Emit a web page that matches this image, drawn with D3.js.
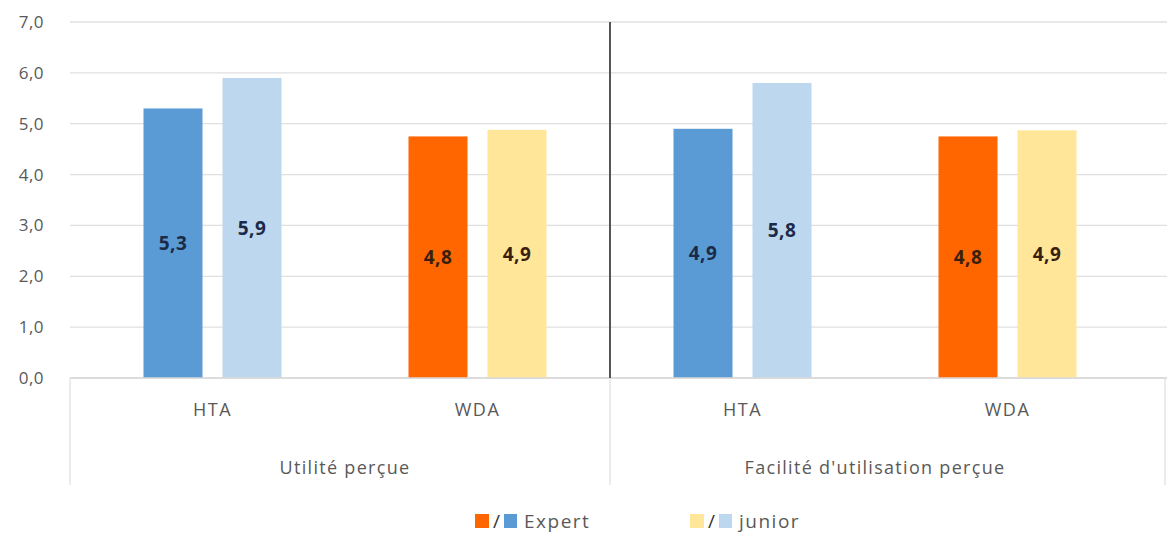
<!DOCTYPE html>
<html><head><meta charset="utf-8">
<script src="https://cdn.jsdelivr.net/npm/d3@7"></script>
<style>body{margin:0;background:#fff}svg{display:block}</style>
</head><body><svg id="c" width="1167" height="537"></svg>
<script>
const groups = ["Utilité perçue", "Facilité d'utilisation perçue"];
const categories = ["HTA", "WDA", "HTA", "WDA"];
const categoryGroup = [0, 0, 1, 1];
const series = ["Expert", "junior"];
const expertValues = [5.3, 4.75, 4.9, 4.75];
const juniorValues = [5.9, 4.88, 5.8, 4.87];
const expertColors = ["#5b9bd5", "#ff6600", "#5b9bd5", "#ff6600"];
const juniorColors = ["#bdd7ee", "#ffe699", "#bdd7ee", "#ffe699"];
const labelColors = ["#1b2a48", "#3a1f10", "#1b2a48", "#3a1f10"];
const yTicks = [0, 1, 2, 3, 4, 5, 6, 7];

const svg = d3.select("#c");
const font = "'Open Sans', 'DejaVu Sans', sans-serif";
const pL = 70, pR = 1167, pT = 22, pB = 378;

const y = d3.scaleLinear().domain([0, 7]).range([pB, pT]);
const x0 = d3.scaleBand().domain(d3.range(categories.length)).range([80, 1140]);
const x1 = d3.scaleBand().domain(series).range([-69, 69]).paddingInner(0.253);
const fmt = v => d3.format(".1f")(v).replace(".", ",");

// gridlines
svg.append("g").selectAll("line").data(yTicks).join("line")
  .attr("x1", pL).attr("x2", pR)
  .attr("y1", d => y(d)).attr("y2", d => y(d))
  .attr("stroke", "#e0e0e0").attr("stroke-width", 1.3);

// y axis labels
const yAxis = d3.axisLeft(y).tickValues(yTicks).tickFormat(d => d3.format(".1f")(d).replace(".", ",")).tickSize(0).tickPadding(0);
const ya = svg.append("g").attr("transform", "translate(44,0)").call(yAxis);
ya.select(".domain").remove();
ya.selectAll("text").attr("font-family", font).attr("font-size", 17).attr("letter-spacing", 0.5).attr("fill", "#595959");

// bars
const barData = [];
categories.forEach((c, i) => {
  barData.push({i, s: "Expert", v: expertValues[i], col: expertColors[i]});
  barData.push({i, s: "junior", v: juniorValues[i], col: juniorColors[i]});
});
const cx = i => x0(i) + x0.bandwidth() / 2;
svg.append("g").selectAll("rect").data(barData).join("rect")
  .attr("x", d => cx(d.i) + x1(d.s))
  .attr("width", x1.bandwidth())
  .attr("y", d => y(d.v))
  .attr("height", d => y(0) - y(d.v))
  .attr("fill", d => d.col);

// value labels
svg.append("g").selectAll("text").data(barData).join("text")
  .attr("x", d => cx(d.i) + x1(d.s) + x1.bandwidth() / 2)
  .attr("y", d => (y(d.v) + y(0)) / 2)
  .attr("dy", "0.35em")
  .attr("text-anchor", "middle")
  .attr("font-family", font).attr("font-weight", "bold").attr("font-size", 19).attr("letter-spacing", 0.5)
  .attr("fill", d => labelColors[d.i])
  .text(d => fmt(d.v));

// axis lines
const sepX = (x0(1) + x0.bandwidth() + x0(2)) / 2;
svg.append("line").attr("x1", pL).attr("x2", pR).attr("y1", y(0)).attr("y2", y(0))
  .attr("stroke", "#d9d9d9").attr("stroke-width", 1.3);
[pL, sepX, pR - 2].forEach(xx => {
  svg.append("line").attr("x1", xx).attr("x2", xx).attr("y1", y(0)).attr("y2", 485)
    .attr("stroke", "#e0e0e0").attr("stroke-width", 1.3);
});
svg.append("line").attr("x1", sepX).attr("x2", sepX).attr("y1", pT).attr("y2", y(0))
  .attr("stroke", "#555").attr("stroke-width", 2);

// category labels
svg.append("g").selectAll("text").data(categories).join("text")
  .attr("x", (d, i) => cx(i)).attr("y", 416)
  .attr("text-anchor", "middle").attr("font-family", font).attr("font-size", 18).attr("letter-spacing", 1.5)
  .attr("fill", "#595959").text(d => d);

// group labels
svg.append("g").selectAll("text").data(groups).join("text")
  .attr("x", (d, g) => {
    const idx = d3.range(categories.length).filter(i => categoryGroup[i] === g);
    return (cx(idx[0]) + cx(idx[idx.length - 1])) / 2;
  })
  .attr("y", 474)
  .attr("text-anchor", "middle").attr("font-family", font).attr("font-size", 18).attr("letter-spacing", 1.3)
  .attr("fill", "#595959").text(d => d);

// legend
const legend = [
  {name: series[0], c1: expertColors[1], c2: expertColors[0], x: 475},
  {name: series[1], c1: juniorColors[1], c2: juniorColors[0], x: 690}
];
const lg = svg.append("g").selectAll("g").data(legend).join("g")
  .attr("transform", d => `translate(${d.x},514)`);
lg.append("rect").attr("width", 14).attr("height", 14).attr("fill", d => d.c1);
lg.append("text").attr("x", 18).attr("y", 14).attr("font-family", font).attr("font-size", 19)
  .attr("fill", "#333").text("/");
lg.append("rect").attr("x", 29).attr("width", 13).attr("height", 14).attr("fill", d => d.c2);
lg.append("text").attr("x", 49).attr("y", 14).attr("font-family", font).attr("font-size", 19).attr("letter-spacing", 1.5)
  .attr("fill", "#595959").text(d => d.name);
</script></body></html>
